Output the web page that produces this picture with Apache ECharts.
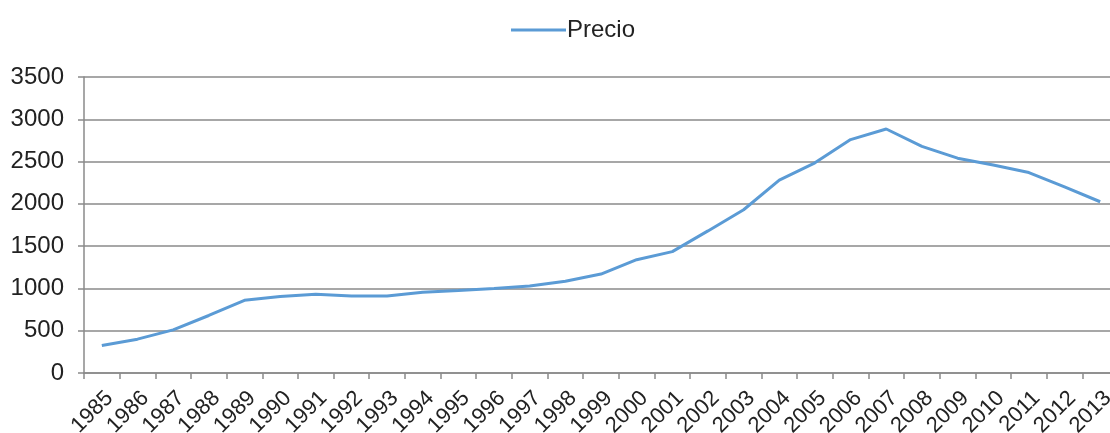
<!DOCTYPE html>
<html>
<head>
<meta charset="utf-8">
<script src="https://cdn.jsdelivr.net/npm/echarts@6/dist/echarts.min.js"></script>
<style>
  html, body { margin: 0; padding: 0; background: #fff; }
  #chart { width: 1110px; height: 433px; }
</style>
</head>
<body>
<div id="chart"></div>
<script>
// Years on the category axis
const years = ['1985','1986','1987','1988','1989','1990','1991','1992','1993','1994',
  '1995','1996','1997','1998','1999','2000','2001','2002','2003','2004',
  '2005','2006','2007','2008','2009','2010','2011','2012','2013'];

// Price per year
const precio = [325, 400, 510, 680, 860, 905, 930, 910, 910, 955,
  975, 1000, 1030, 1085, 1170, 1340, 1435, 1680, 1930, 2280,
  2485, 2760, 2885, 2680, 2540, 2460, 2370, 2200, 2025];

const seriesName = 'Precio';

const chart = echarts.init(document.getElementById('chart'));
const font = 'Liberation Sans, Arial, sans-serif';
const grey = '#8a8a8a';

chart.setOption({
  animation: false,
  textStyle: { fontFamily: font },
  legend: {
    data: [seriesName],
    left: 506,
    top: 13,
    icon: 'rect',
    itemWidth: 55,
    itemHeight: 3,
    textStyle: { fontSize: 24, color: '#222', fontFamily: font, padding: [0, 0, 0, -4] }
  },
  // plot area runs slightly past the right edge of the canvas
  grid: { left: 84, top: 77, width: 1034, bottom: 60, containLabel: false, outerBoundsMode: 'none' },
  xAxis: {
    type: 'category',
    data: years,
    boundaryGap: true,
    axisLine: { lineStyle: { color: grey, width: 1.5 } },
    axisTick: { show: true, length: 6, alignWithLabel: false, lineStyle: { color: grey, width: 1.5 } },
    axisLabel: {
      interval: 0, rotate: 45, margin: 14, fontSize: 22, color: '#222', fontFamily: font,
      hideOverlap: false, verticalAlign: 'top'
    }
  },
  yAxis: {
    type: 'value',
    min: 0,
    max: 3500,
    interval: 500,
    axisLine: { show: true, lineStyle: { color: grey, width: 1.5 } },
    axisTick: { show: true, length: 6, lineStyle: { color: grey, width: 1.5 } },
    splitLine: { lineStyle: { color: grey, width: 1.5 } },
    axisLabel: { margin: 20, fontSize: 24, color: '#222', fontFamily: font, formatter: v => String(v) }
  },
  series: [{
    name: seriesName,
    type: 'line',
    data: precio,
    showSymbol: false,
    symbol: 'none',
    lineStyle: { color: '#5b9bd5', width: 3 },
    itemStyle: { color: '#5b9bd5' }
  }]
});
</script>
</body>
</html>
